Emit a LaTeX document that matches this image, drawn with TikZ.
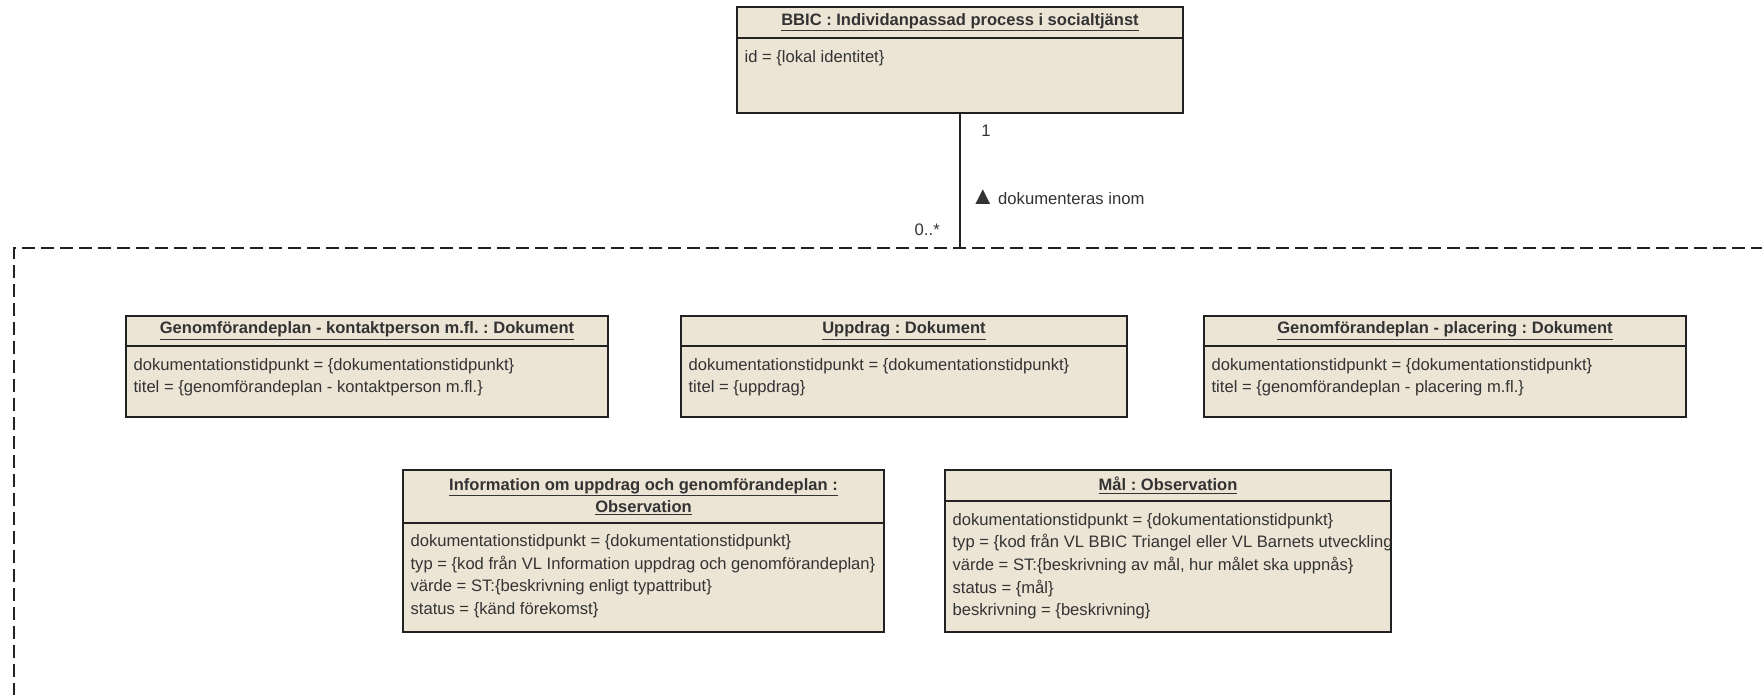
\documentclass[tikz,border=0pt]{standalone}
\usepackage{fontspec}
\setmainfont{Liberation Sans}
\usetikzlibrary{positioning}
\definecolor{klassfyll}{RGB}{236,229,214}
\definecolor{linje}{RGB}{34,34,34}
\definecolor{textgra}{RGB}{51,51,51}
\frenchspacing
\tikzset{
  huvud/.style={draw=linje, fill=klassfyll, line width=1pt, outer sep=0pt, anchor=north west, inner sep=0pt, align=center,
    font=\fontsize{12.4}{16.5}\selectfont\bfseries, text=textgra},
  kropp/.style={draw=linje, fill=klassfyll, line width=1pt, outer sep=0pt, inner sep=0pt},
  attr/.style={inner sep=0pt, align=left, font=\fontsize{12.45}{17}\selectfont, text=textgra},
  etikett/.style={inner sep=0pt, font=\fontsize{12.5}{14}\selectfont, text=textgra},
  ram/.style={draw=linje, line width=1pt, dash pattern=on 9.75pt off 4.5pt}
}

\begin{document}
\begin{tikzpicture}[x=0.75pt,y=0.75pt,yscale=-1,xscale=1]
\useasboundingbox (0,0) rectangle (1762,695);

%Ram (paket)
\coordinate (ram) at (960,248);
\draw [ram] (1764,248) -- (14,248) -- (14,697);

%Klass: BBIC
\node [huvud, minimum width=334.5pt, minimum height=23.25pt] (bbic) at (737,7) {\underline{BBIC : Individanpassad process i socialtjänst}};
\node [kropp, below=0pt of bbic, minimum width=334.5pt, minimum height=56.25pt] (bbick) {};
\node [attr, below right=9pt and 5.5pt of bbick.north west] (bbict) {id = \{lokal identitet\}};

%Association
\draw [linje, line width=1pt] (bbick.south) -- (ram);
\node [etikett] (mult1) at (986,131) {1};
\node [etikett, anchor=west] (assnamn) at (970,197) {{\fontsize{19}{19}\selectfont ▲}\,dokumenteras inom};
\node [etikett, anchor=east] (mult2) at (940,230) {0..*};

%Klass: Genomförandeplan - kontaktperson
\node [huvud, minimum width=361.5pt, minimum height=22.5pt] (gkp) at (126,316) {\underline{Genomförandeplan - kontaktperson m.fl. : Dokument}};
\node [kropp, below=0pt of gkp, minimum width=361.5pt, minimum height=53.25pt] (gkpk) {};
\node [attr, below right=9pt and 5.5pt of gkpk.north west] (gkpt) {dokumentationstidpunkt = \{dokumentationstidpunkt\}\\titel = \{genomförandeplan - kontaktperson m.fl.\}};

%Klass: Uppdrag
\node [huvud, minimum width=334.5pt, minimum height=22.5pt] (upp) at (681,316) {\underline{Uppdrag : Dokument}};
\node [kropp, below=0pt of upp, minimum width=334.5pt, minimum height=53.25pt] (uppk) {};
\node [attr, below right=9pt and 5.5pt of uppk.north west] (uppt) {dokumentationstidpunkt = \{dokumentationstidpunkt\}\\titel = \{uppdrag\}};

%Klass: Genomförandeplan - placering
\node [huvud, minimum width=361.5pt, minimum height=22.5pt] (gpl) at (1204,316) {\underline{Genomförandeplan - placering : Dokument}};
\node [kropp, below=0pt of gpl, minimum width=361.5pt, minimum height=53.25pt] (gplk) {};
\node [attr, below right=9pt and 5.5pt of gplk.north west] (gplt) {dokumentationstidpunkt = \{dokumentationstidpunkt\}\\titel = \{genomförandeplan - placering m.fl.\}};

%Klass: Information om uppdrag
\node [huvud, minimum width=360.75pt, minimum height=39.75pt] (info) at (403,470) {\underline{Information om uppdrag och genomförandeplan :}\\\underline{Observation}\vphantom{\rule{0pt}{5pt}}};
\node [kropp, below=0pt of info, minimum width=360.75pt, minimum height=81.75pt] (infok) {};
\node [attr, below right=8.5pt and 5.5pt of infok.north west] (infot) {dokumentationstidpunkt = \{dokumentationstidpunkt\}\\typ = \{kod från VL Information uppdrag och genomförandeplan\}\\värde = ST:\{beskrivning enligt typattribut\}\\status = \{känd förekomst\}};

%Klass: Mål
\node [huvud, minimum width=334.5pt, minimum height=23.25pt] (mal) at (945,470) {\underline{Mål : Observation}};
\node [kropp, below=0pt of mal, minimum width=334.5pt, minimum height=98.25pt] (malk) {};
\begin{scope}
\clip (malk.north west) rectangle (malk.south east);
\node [attr, below right=9pt and 5.5pt of malk.north west] (malt) {dokumentationstidpunkt = \{dokumentationstidpunkt\}\\typ = \{kod från VL BBIC Triangel eller VL Barnets utveckling\}\\värde = ST:\{beskrivning av mål, hur målet ska uppnås\}\\status = \{mål\}\\beskrivning = \{beskrivning\}};
\end{scope}
\draw [linje, line width=1pt] (malk.north east) -- (malk.south east);

\end{tikzpicture}
\end{document}
